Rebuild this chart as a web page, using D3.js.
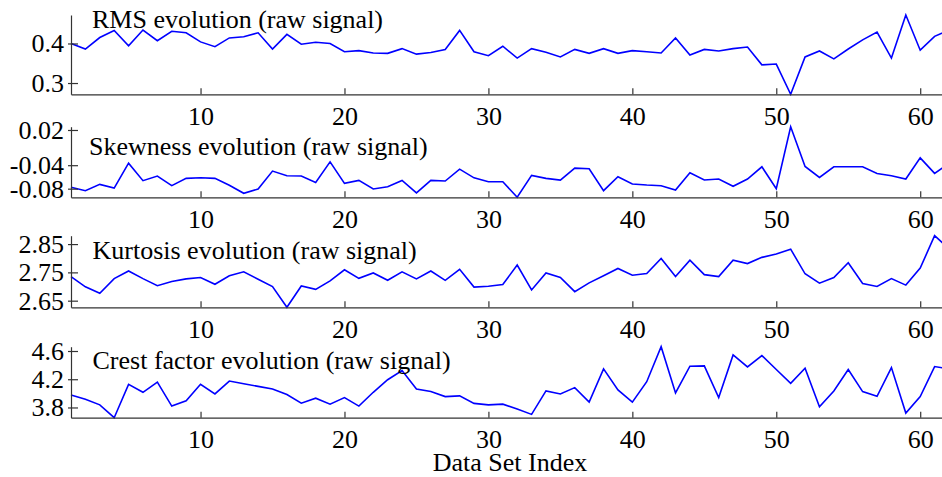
<!DOCTYPE html>
<html>
<head>
    <title>Signal statistics evolution</title>
    <script src="https://d3js.org/d3.v7.min.js"></script>
    <style>
        body { margin: 0; background: #fff; }
        .axis path, .axis line { stroke: #333; stroke-width: 1.2; }
        .line { fill: none; stroke: #0000ff; stroke-width: 1.6; }
    </style>
</head>
<body>
<script>
    var w = 942, h = 477;
    var serif = "'Liberation Serif', 'Times New Roman', serif";

    // values, data set index 1..62
    var rmsValues = [0.400, 0.386, 0.415, 0.433, 0.394, 0.434, 0.407, 0.431, 0.427, 0.404,
        0.392, 0.414, 0.417, 0.427, 0.386, 0.423, 0.398, 0.403, 0.400, 0.379,
        0.382, 0.376, 0.375, 0.387, 0.373, 0.377, 0.385, 0.433, 0.379, 0.369,
        0.393, 0.363, 0.387, 0.378, 0.366, 0.385, 0.375, 0.387, 0.375, 0.382,
        0.379, 0.376, 0.414, 0.371, 0.385, 0.381, 0.387, 0.391, 0.346, 0.348,
        0.2715, 0.366, 0.381, 0.361, 0.386, 0.409, 0.429, 0.363, 0.472, 0.383,
        0.418, 0.434];

    var skewValues = [-0.0777, -0.0834, -0.0727, -0.0789, -0.0365, -0.0664, -0.0585, -0.0749, -0.0625, -0.0614,
        -0.0625, -0.0743, -0.0879, -0.0806, -0.0500, -0.0580, -0.0585, -0.0693, -0.0342, -0.0710,
        -0.0659, -0.0806, -0.0766, -0.0659, -0.0873, -0.0659, -0.0670, -0.0467, -0.0615, -0.0681,
        -0.0681, -0.0947, -0.0574, -0.0625, -0.0653, -0.0450, -0.0461, -0.0834, -0.0597, -0.0721,
        -0.0738, -0.0749, -0.0823, -0.0529, -0.0653, -0.0636, -0.0760, -0.0636, -0.0427, -0.0800,
        0.0256, -0.0421, -0.0608, -0.0427, -0.0427, -0.0427, -0.0540, -0.0580, -0.0636, -0.0275,
        -0.0540, -0.0370];

    var kurtValues = [2.735, 2.699, 2.676, 2.728, 2.755, 2.728, 2.703, 2.718, 2.727, 2.732,
        2.708, 2.738, 2.752, 2.726, 2.700, 2.6266, 2.702, 2.690, 2.720, 2.759,
        2.729, 2.748, 2.722, 2.752, 2.727, 2.755, 2.722, 2.761, 2.698, 2.701,
        2.707, 2.776, 2.688, 2.748, 2.732, 2.682, 2.713, 2.738, 2.764, 2.740,
        2.746, 2.799, 2.735, 2.793, 2.742, 2.735, 2.793, 2.781, 2.803, 2.815,
        2.832, 2.745, 2.712, 2.732, 2.784, 2.711, 2.700, 2.728, 2.705, 2.765,
        2.8796, 2.834];

    var crestValues = [3.978, 3.917, 3.837, 3.655, 4.128, 4.015, 4.160, 3.819, 3.894, 4.128,
        3.992, 4.174, 4.137, 4.099, 4.062, 3.983, 3.861, 3.931, 3.847, 3.940,
        3.819, 4.015, 4.193, 4.324, 4.062, 4.025, 3.954, 3.964, 3.858, 3.837,
        3.847, 3.777, 3.702, 4.034, 3.992, 4.081, 3.875, 4.347, 4.048, 3.875,
        4.165, 4.661, 4.006, 4.385, 4.390, 3.940, 4.544, 4.375, 4.535, 4.338,
        4.142, 4.357, 3.809, 4.034, 4.338, 4.025, 3.959, 4.366, 3.721, 3.954,
        4.380, 4.345];

    var xTicks = [10, 20, 30, 40, 50, 60];
    var xLabel = "Data Set Index";

    var panels = [
        { title: "RMS evolution (raw signal)", values: rmsValues,
          ticks: [0.3, 0.4], fmt: d3.format(".1f"), top: 15, bottom: 94.3, tx: 92, ty: 28 },
        { title: "Skewness evolution (raw signal)", values: skewValues,
          ticks: [-0.08, -0.04, 0.02], fmt: function (d) { return d3.format(".2f")(d).replace("−", "-"); },
          top: 126.7, bottom: 197.3, tx: 89, ty: 155 },
        { title: "Kurtosis evolution (raw signal)", values: kurtValues,
          ticks: [2.65, 2.75, 2.85], fmt: d3.format(".2f"), top: 235.7, bottom: 307.3, tx: 92.5, ty: 259 },
        { title: "Crest factor evolution (raw signal)", values: crestValues,
          ticks: [3.8, 4.2, 4.6], fmt: d3.format(".1f"), top: 346.7, bottom: 417.7, tx: 92.5, ty: 369 }
    ];

    var svg = d3.select("body").append("svg")
        .attr("width", w)
        .attr("height", h);

    // the axes run a little past the right edge of the picture
    var x = d3.scaleLinear().domain([1, 62]).range([71, 949]);

    panels.forEach(function (p) {
        var y = d3.scaleLinear()
            .domain(d3.extent(p.values))
            .range([p.bottom, p.top]);

        var line = d3.line()
            .x(function (d, i) { return x(i + 1); })
            .y(function (d) { return y(d); });

        svg.append("path")
            .datum(p.values)
            .attr("class", "line")
            .attr("d", line);

        // x axis, ticks pointing inward
        var gx = svg.append("g")
            .attr("class", "axis")
            .attr("transform", "translate(0," + p.bottom + ")")
            .call(d3.axisBottom(x).tickValues(xTicks).tickSizeInner(-6).tickSizeOuter(0).tickPadding(12));
        gx.attr("font-family", serif).attr("font-size", 26);
        gx.selectAll("text").attr("dy", "0.72em").attr("fill", "#000");

        // y axis, ticks pointing inward
        var gy = svg.append("g")
            .attr("class", "axis")
            .attr("transform", "translate(" + x(1) + ",0)")
            .call(d3.axisLeft(y).tickValues(p.ticks).tickFormat(p.fmt).tickSizeInner(-7).tickSizeOuter(0).tickPadding(7));
        gy.attr("font-family", serif).attr("font-size", 26);
        gy.selectAll("text").attr("fill", "#000");
        gy.selectAll(".tick line").attr("x1", -3);

        svg.append("text")
            .attr("x", p.tx)
            .attr("y", p.ty)
            .attr("font-family", serif)
            .attr("font-size", 26)
            .text(p.title);
    });

    svg.append("text")
        .attr("x", 510)
        .attr("y", 470.5)
        .attr("text-anchor", "middle")
        .attr("font-family", serif)
        .attr("font-size", 26)
        .text(xLabel);
</script>
</body>
</html>
